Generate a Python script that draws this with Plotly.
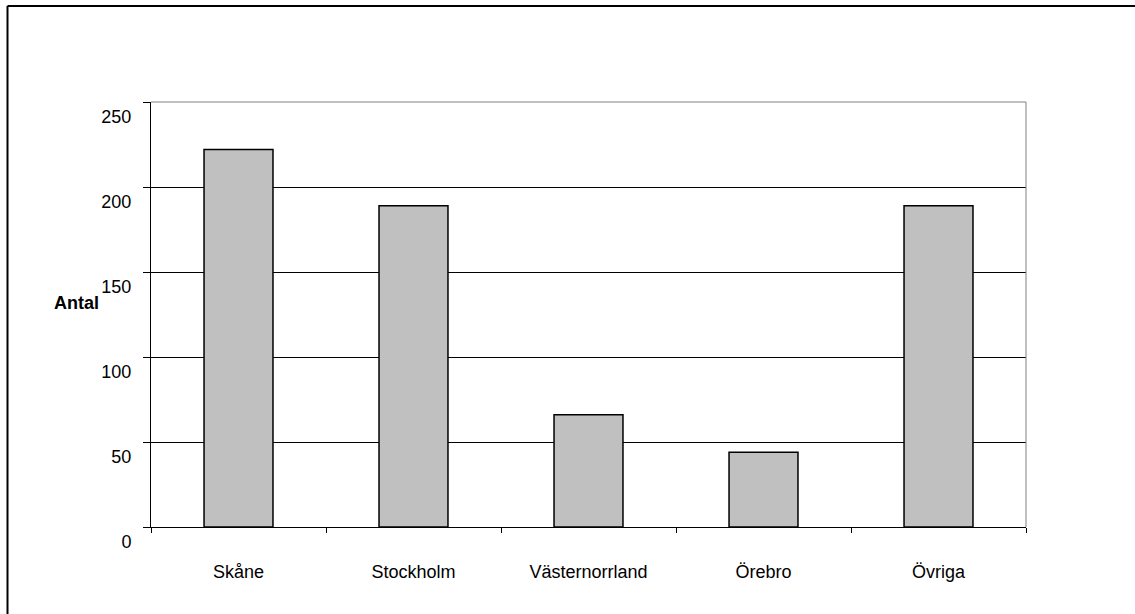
import plotly.graph_objects as go

# Antal per region
regions = ["Skåne", "Stockholm", "Västernorrland", "Örebro", "Övriga"]
antal = [222, 189, 66, 44, 189]

y_ticks = [0, 50, 100, 150, 200, 250]
y_title = "Antal"

FONT = "Liberation Sans, Arial, sans-serif"
SIZE = 18

fig = go.Figure(
    go.Bar(
        x=regions,
        y=antal,
        width=0.394,
        marker=dict(color="#C0C0C0", line=dict(color="#000000", width=1.5)),
        hoverinfo="x+y",
    )
)

fig.update_layout(
    width=1135,
    height=614,
    margin=dict(l=151, r=109, t=102, b=87),
    paper_bgcolor="white",
    plot_bgcolor="white",
    showlegend=False,
    font=dict(family=FONT, size=SIZE, color="black"),
)

fig.update_xaxes(
    type="category",
    tickson="boundaries",
    ticks="outside",
    ticklen=5,
    tickcolor="#000000",
    showline=True,
    linecolor="#000000",
    linewidth=1,
    showgrid=False,
    ticklabelstandoff=28,
    tickfont=dict(family=FONT, size=SIZE),
)

fig.update_yaxes(
    range=[0, 250],
    tickvals=y_ticks,
    ticktext=[str(v) for v in y_ticks],
    ticks="outside",
    ticklen=7,
    tickcolor="#000000",
    showline=True,
    linecolor="#000000",
    linewidth=1,
    showgrid=True,
    gridcolor="#000000",
    gridwidth=1,
    zeroline=False,
    ticklabelshift=15,
    ticklabelstandoff=8,
    tickfont=dict(family=FONT, size=SIZE),
)

# Right and top edges of the plotting area in gray
fig.add_shape(type="line", xref="paper", yref="paper", x0=1, x1=1, y0=0, y1=1,
              line=dict(color="#808080", width=1))
fig.add_shape(type="line", xref="paper", yref="paper", x0=0, x1=1, y0=1, y1=1,
              line=dict(color="#808080", width=1))

# Outer chart frame (top and left edges fall inside the page)
fig.add_shape(type="line", xref="paper", yref="paper",
              x0=-0.164, x1=1.2, y0=1.2259, y1=1.2259,
              line=dict(color="#000000", width=2), layer="below")
fig.add_shape(type="line", xref="paper", yref="paper",
              x0=-0.164, x1=-0.164, y0=-0.3, y1=1.2259,
              line=dict(color="#000000", width=2), layer="below")

fig.add_annotation(
    text="<b>" + y_title + "</b>",
    xref="paper", yref="paper",
    x=-0.0846, y=0.527,
    xanchor="center", yanchor="middle",
    showarrow=False,
    font=dict(family=FONT, size=SIZE),
)

fig.write_html("out.html")
